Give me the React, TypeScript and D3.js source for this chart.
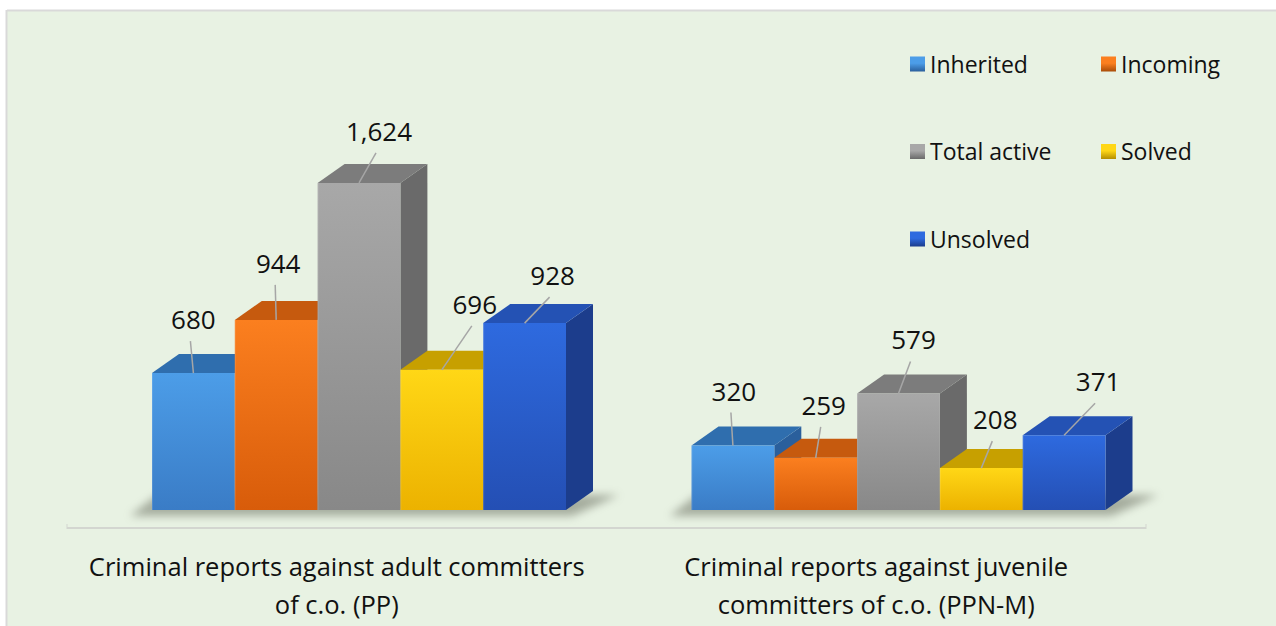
import React from "react";
import * as d3 from "d3";

const categories = [
  ["Criminal reports against adult committers", "of c.o. (PP)"],
  ["Criminal reports against juvenile", "committers of c.o. (PPN-M)"],
];
const seriesNames = ["Inherited", "Incoming", "Total active", "Solved", "Unsolved"];
const adultValues = [680, 944, 1624, 696, 928];
const juvenileValues = [320, 259, 579, 208, 371];
const valuesByCategory = [adultValues, juvenileValues];

// leader line offsets (layout only): [dx of line start from bar front centre, rise above bar top]
const leaderAdult = [[-3, 32], [-1, 35], [17, 30], [30, 44], [25, 26]];
const leaderJuvenile = [[-2, 33], [5, 31], [12, 32], [11, 27], [31, 32]];
const leaders = [leaderAdult, leaderJuvenile];

const palette = [
  { f1: "#4C9DE8", f2: "#3A7CC6", top: "#2F6EAE", side: "#2A5F9C" },
  { f1: "#FB7F1F", f2: "#D85C0A", top: "#C65A0E", side: "#A94C08" },
  { f1: "#A8A8A8", f2: "#888888", top: "#7C7C7C", side: "#6A6A6A" },
  { f1: "#FFD716", f2: "#ECB200", top: "#C7A000", side: "#B48E00" },
  { f1: "#2E6ADF", f2: "#244FB4", top: "#2452B4", side: "#1C3D8C" },
];

const W = 1276;
const H = 626;
const BASE = 510;
const DX = 27;
const DY = -19;
const FONT = "'Open Sans', sans-serif";

export default function App() {
  const x = d3.scaleBand<number>().domain([0, 1]).range([67, 1146]).padding(0);
  const inner = d3.scaleBand<string>().domain(seriesNames).range([85, 85 + 414]).padding(0);
  const y = d3.scaleLinear().domain([0, 1800]).range([BASE, BASE - 362.5]);

  return (
    <svg
      width={W}
      height={H}
      style={{ position: "absolute", left: 0, top: 0, display: "block" }}
      fontFamily={FONT}
    >
      <defs>
        {palette.map((p, i) => (
          <linearGradient key={i} id={`front${i}`} x1="0" y1="0" x2="0" y2="1">
            <stop offset="0" stopColor={p.f1} />
            <stop offset="1" stopColor={p.f2} />
          </linearGradient>
        ))}
        {palette.map((p, i) => (
          <linearGradient key={i} id={`leg${i}`} x1="0" y1="0" x2="0" y2="1">
            <stop offset="0" stopColor={p.f1} />
            <stop offset="0.45" stopColor={p.f1} />
            <stop offset="1" stopColor={p.side} />
          </linearGradient>
        ))}
        <filter id="blur" x="-20%" y="-50%" width="140%" height="200%">
          <feGaussianBlur stdDeviation="4" />
        </filter>
      </defs>
      <rect x={0} y={0} width={W} height={H} fill="#ffffff" />
      <rect x={7} y={11} width={W - 7} height={H - 11} fill="#E8F2E3" />
      <line x1={7} y1={10.5} x2={W} y2={10.5} stroke="#D9D9D9" strokeWidth={2} />
      <line x1={6.5} y1={10} x2={6.5} y2={H} stroke="#D9D9D9" strokeWidth={2} />

      {/* axis line */}
      <line x1={67} y1={528} x2={1146} y2={528} stroke="#D3D6D0" strokeWidth={2} />
      <line x1={67} y1={524} x2={67} y2={529} stroke="#D3D6D0" strokeWidth={1} />
      <line x1={1146} y1={524} x2={1146} y2={529} stroke="#D3D6D0" strokeWidth={1} />

      {valuesByCategory.map((vals, ci) => {
        const x0 = (x(ci) as number) + (inner(seriesNames[0]) as number);
        const bw = inner.bandwidth();
        const x1 = x0 + bw * seriesNames.length;
        return (
          <g key={ci}>
            <polygon
              points={[
                [x0 - 22, BASE + 6],
                [x1 + 6, BASE + 6],
                [x1 + DX + 26, BASE + DY + 4],
                [x0 + DX - 22, BASE + DY + 4],
              ]
                .map((p) => p.join(","))
                .join(" ")}
              fill="#6f7466"
              opacity={0.55}
              filter="url(#blur)"
            />
            {vals.map((v, si) => {
              const bx = (x(ci) as number) + (inner(seriesNames[si]) as number);
              const top = y(v);
              const p = palette[si];
              const front = `M${bx},${top}H${bx + bw}V${BASE}H${bx}Z`;
              const topFace = `M${bx},${top}L${bx + DX},${top + DY}H${bx + bw + DX}L${bx + bw},${top}Z`;
              const side = `M${bx + bw},${top}L${bx + bw + DX},${top + DY}V${BASE + DY}L${bx + bw},${BASE}Z`;
              return (
                <g key={si}>
                  <path d={side} fill={p.side} />
                  <path d={topFace} fill={p.top} />
                  <path d={front} fill={`url(#front${si})`} />
                  <line x1={bx + 0.5} y1={top} x2={bx + 0.5} y2={BASE} stroke="#ffffff" strokeOpacity={0.12} />
                </g>
              );
            })}
            {vals.map((v, si) => {
              const bx = (x(ci) as number) + (inner(seriesNames[si]) as number);
              const cx = bx + bw / 2;
              const top = y(v);
              const [ldx, ldy] = leaders[ci][si];
              const sx = cx + ldx;
              const sy = top - ldy;
              return (
                <g key={`l${si}`}>
                  <line x1={sx} y1={sy} x2={cx} y2={top} stroke="#A6A6A6" strokeWidth={1.5} />
                  <text x={sx + 3} y={sy - 12} textAnchor="middle" fontSize={26} fill="#111">
                    {d3.format(",")(v)}
                  </text>
                </g>
              );
            })}
          </g>
        );
      })}

      {categories.map((lines, ci) => {
        const cx = (x(ci) as number) + x.bandwidth() / 2;
        return (
          <text key={ci} textAnchor="middle" fontSize={25.5} fill="#111">
            {lines.map((ln, li) => (
              <tspan key={li} x={cx} y={576 + li * 38}>
                {ln}
              </tspan>
            ))}
          </text>
        );
      })}

      {/* legend */}
      {seriesNames.map((name, si) => {
        const col = si % 2;
        const row = Math.floor(si / 2);
        const lx = col === 0 ? 910 : 1101;
        const ly = 64 + row * 87.5;
        return (
          <g key={name}>
            <rect x={lx} y={ly - 7.5} width={15} height={15} fill={`url(#leg${si})`} />
            <text x={lx + 20} y={ly + 8.5} fontSize={23} fill="#111">
              {name}
            </text>
          </g>
        );
      })}
    </svg>
  );
}
